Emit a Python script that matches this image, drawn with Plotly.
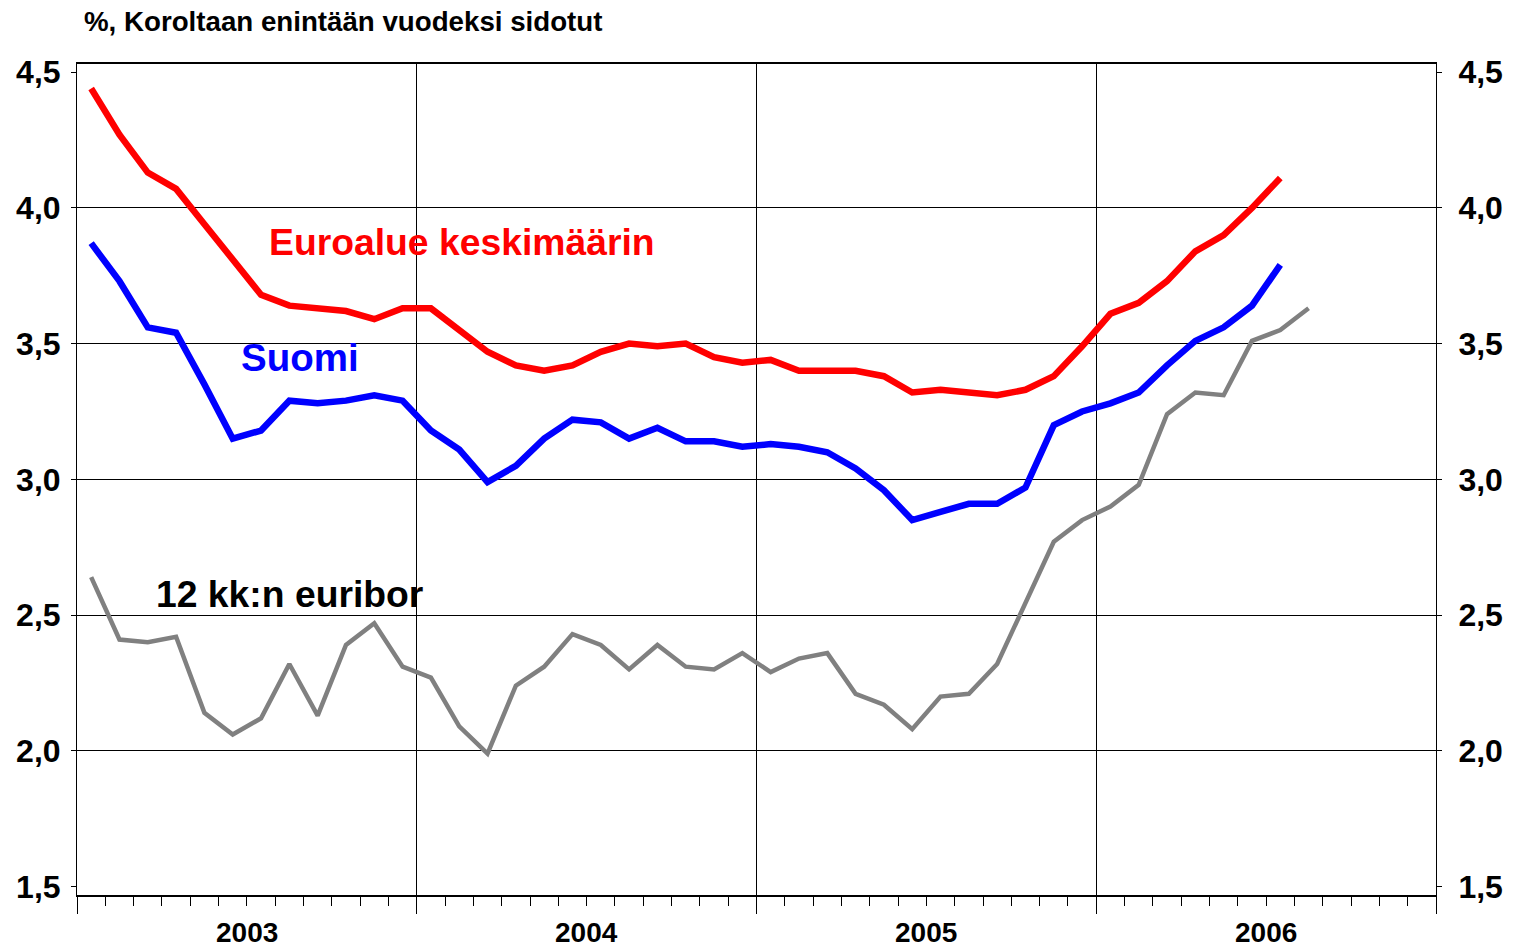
import numpy as np
import pandas as pd
import plotly.graph_objects as go

# Monthly observations, January 2003 onwards
MONTHS = pd.period_range("2003-01", "2006-12", freq="M").strftime("%Y-%m").tolist()
YEARS = ["2003", "2004", "2005", "2006"]

# Euro area average (%)
EURO_AREA = [4.44, 4.27, 4.13, 4.07, 3.94, 3.81, 3.68, 3.64, 3.63, 3.62, 3.59, 3.63,
             3.63, 3.55, 3.47, 3.42, 3.40, 3.42, 3.47, 3.50, 3.49, 3.50, 3.45, 3.43,
             3.44, 3.40, 3.40, 3.40, 3.38, 3.32, 3.33, 3.32, 3.31, 3.33, 3.38, 3.49,
             3.61, 3.65, 3.73, 3.84, 3.90, 4.00, 4.11]

# Finland (%)
FINLAND = [3.87, 3.73, 3.56, 3.54, 3.35, 3.15, 3.18, 3.29, 3.28, 3.29, 3.31, 3.29,
           3.18, 3.11, 2.99, 3.05, 3.15, 3.22, 3.21, 3.15, 3.19, 3.14, 3.14, 3.12,
           3.13, 3.12, 3.10, 3.04, 2.96, 2.85, 2.88, 2.91, 2.91, 2.97, 3.20, 3.25,
           3.28, 3.32, 3.42, 3.51, 3.56, 3.64, 3.79]

# 12-month Euribor (%)
EURIBOR_12M = [2.64, 2.41, 2.40, 2.42, 2.14, 2.06, 2.12, 2.32, 2.13, 2.39, 2.47, 2.31,
               2.27, 2.09, 1.99, 2.24, 2.31, 2.43, 2.39, 2.30, 2.39, 2.31, 2.30, 2.36,
               2.29, 2.34, 2.36, 2.21, 2.17, 2.08, 2.20, 2.21, 2.32, 2.55, 2.77, 2.85,
               2.90, 2.98, 3.24, 3.32, 3.31, 3.51, 3.55, 3.63]

Y_TICKS = [1.5, 2.0, 2.5, 3.0, 3.5, 4.0, 4.5]
Y_TICK_LABELS = ["1,5", "2,0", "2,5", "3,0", "3,5", "4,0", "4,5"]
GRID_LEVELS = [2.0, 2.5, 3.0, 3.5, 4.0]

TITLE = "%, Koroltaan enintään vuodeksi sidotut"
LABEL_EURO = "Euroalue keskimäärin"
LABEL_FIN = "Suomi"
LABEL_EURIBOR = "12 kk:n euribor"

FONT = "Arial, Liberation Sans, sans-serif"
RED, BLUE, GREY = "#FF0000", "#0000FF", "#808080"

pos = np.arange(len(MONTHS))
per_year = len(MONTHS) // len(YEARS)
year_edges = [k * per_year - 0.5 for k in range(len(YEARS) + 1)]
year_centres = [k * per_year + (per_year - 1) / 2 for k in range(len(YEARS))]
y_range = [1.469, 4.530]

fig = go.Figure()


def add_line(values, colour, width, name, yaxis="y"):
    n = len(values)
    fig.add_trace(go.Scatter(
        x=pos[:n], y=values, customdata=MONTHS[:n], name=name, mode="lines",
        line=dict(color=colour, width=width), yaxis=yaxis,
        hovertemplate="%{customdata}: %{y:.2f}<extra>" + name + "</extra>",
    ))


add_line(EURO_AREA, RED, 6.5, LABEL_EURO)
add_line(FINLAND, BLUE, 6.5, LABEL_FIN)
add_line(EURIBOR_12M, GREY, 4.5, LABEL_EURIBOR, yaxis="y2")

tick_font = dict(family=FONT, size=32, color="black", weight="bold")

fig.update_layout(
    width=1515, height=947,
    margin=dict(l=77, r=74, t=64, b=52),
    paper_bgcolor="white", plot_bgcolor="white",
    showlegend=False,
    separators=", ",
    xaxis=dict(
        range=[-0.5, len(MONTHS) - 0.5], tickvals=year_edges, showticklabels=False,
        ticks="outside", ticklen=17, tickwidth=1, tickcolor="black",
        showgrid=True, gridcolor="black", gridwidth=1,
        showline=True, linecolor="black", linewidth=1.5, mirror=True,
        zeroline=False, fixedrange=True,
        minor=dict(tick0=-0.5, dtick=1, ticks="outside", ticklen=9,
                   tickwidth=1, tickcolor="black", showgrid=False),
    ),
    yaxis=dict(
        range=y_range, tickvals=Y_TICKS, ticktext=Y_TICK_LABELS,
        ticks="outside", ticklen=5, tickcolor="black", tickfont=tick_font,
        ticklabelstandoff=4,
        showgrid=False, zeroline=False,
        showline=True, linecolor="black", linewidth=1, mirror=True,
        minor=dict(tickvals=GRID_LEVELS, ticks="", showgrid=True,
                   gridcolor="black", gridwidth=1),
    ),
    yaxis2=dict(
        range=y_range, tickvals=Y_TICKS, ticktext=Y_TICK_LABELS,
        overlaying="y", side="right", anchor="x",
        ticks="outside", ticklen=5, tickcolor="black", tickfont=tick_font,
        ticklabelstandoff=10,
        showgrid=False, zeroline=False,
        showline=True, linecolor="black", linewidth=1,
    ),
)

# Year labels centred under each year's months
for yr, xc in zip(YEARS, year_centres):
    fig.add_annotation(x=xc, y=-0.045, xref="x", yref="paper", text=yr,
                       showarrow=False, xanchor="center", yanchor="middle",
                       font=dict(family=FONT, size=28, color="black", weight="bold"))

# Axis title above the plot
fig.add_annotation(x=0.004, y=1.0506, xref="paper", yref="paper", text=TITLE,
                   showarrow=False, xanchor="left", yanchor="middle",
                   font=dict(family=FONT, size=27.7, color="black", weight="bold"))

# Series labels
series_labels = [
    (LABEL_EURO, RED, 0.1400, 0.7857, 37.3),
    (LABEL_FIN, BLUE, 0.1195, 0.647, 38.5),
    (LABEL_EURIBOR, "black", 0.0570, 0.362, 37.3),
]
for text, colour, xp, yp, size in series_labels:
    fig.add_annotation(x=xp, y=yp, xref="paper", yref="paper", text=text,
                       showarrow=False, xanchor="left", yanchor="middle",
                       font=dict(family=FONT, size=size, color=colour, weight="bold"))

fig.write_html("out.html")
